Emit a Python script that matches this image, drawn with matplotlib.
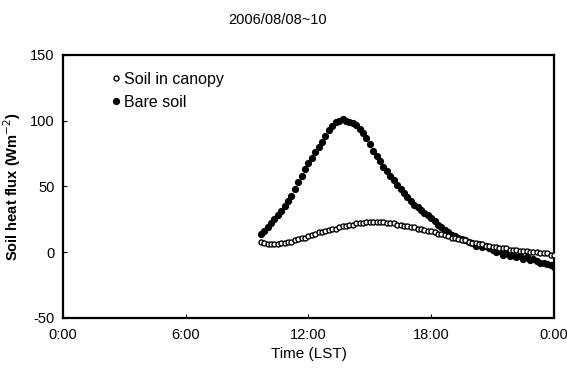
import matplotlib
matplotlib.use("Agg")
import matplotlib.pyplot as plt
import numpy as np

plt.rcParams['font.family'] = ['Liberation Sans', 'DejaVu Sans']
plt.rcParams['axes.unicode_minus'] = False

# 10-minute records from 9:40 to 24:00 (hours)
hours = 9 + 40 / 60 + np.arange(87) / 6

# bare soil heat flux (W m-2), one row per hour
bare_soil = [
    14, 16,
    19, 22, 25, 28, 31, 35,
    39, 43, 48, 53, 58, 63,
    68, 72, 76, 80, 84, 88,
    93, 96, 99, 100, 101, 100,
    99, 98, 97, 94, 91, 87,
    82, 77, 73, 69, 65, 62,
    58, 55, 51, 48, 45, 42,
    39, 36, 34, 32, 30, 28,
    26, 24, 21, 19, 17, 15,
    13, 12, 11, 10, 9, 8,
    7, 5, 6, 4, 5, 3,
    2, 0, 1, -2, -1, -3,
    -2, -4, -3, -5, -4, -6,
    -5, -7, -8, -8, -9, -10,
    -11,
]

# soil heat flux under the canopy
soil_canopy = [
    8, 7,
    6, 6, 6, 6, 7, 7,
    8, 8, 9, 10, 11, 11,
    12, 13, 14, 15, 15, 16,
    17, 18, 18, 19, 20, 20,
    21, 21, 22, 22, 22, 23,
    23, 23, 23, 23, 23, 22,
    22, 22, 21, 21, 20, 20,
    19, 19, 18, 18, 17, 16,
    16, 15, 14, 14, 13, 12,
    11, 11, 10, 9, 9, 8,
    7, 7, 6, 6, 5, 5,
    4, 4, 3, 3, 3, 2,
    2, 2, 1, 1, 1, 0,
    0, 0, -1, -1, -1, -2,
    -2,
]

xticks = [0, 6, 12, 18, 24]
xticklabels = ['0:00', '6:00', '12:00', '18:00', '0:00']
yticks = [-50, 0, 50, 100, 150]

fig = plt.figure(figsize=(5.67, 3.74), dpi=100)
ax = fig.add_axes([0.111, 0.150, 0.866, 0.703])

ax.plot(hours, soil_canopy, 'o', ms=3.6, mfc='white', mec='black', mew=1.0,
        label='Soil in canopy', zorder=3)
ax.plot(hours, bare_soil, 'o', ms=4.2, mfc='black', mec='black',
        label='Bare soil', zorder=2)

ax.set_xlim(0, 24)
ax.set_ylim(-50, 150)
ax.set_xticks(xticks)
ax.set_xticklabels(xticklabels)
ax.set_yticks(yticks)
ax.tick_params(direction='in', length=3, labelsize=10.5, pad=7)
ax.tick_params(axis='y', pad=6)
for s in ax.spines.values():
    s.set_linewidth(1.6)

ax.set_xlabel('Time (LST)', fontsize=11, labelpad=4)
ax.set_ylabel('Soil heat flux (Wm$^{-2}$)', fontsize=10.5, fontweight='bold',
              labelpad=5)

ax.legend(loc='upper left', frameon=False, fontsize=11.5, handletextpad=0.05,
          handlelength=1.0, borderaxespad=0.4, labelspacing=0.5,
          bbox_to_anchor=(0.065, 0.985))

fig.text(278 / 567, 1 - 20 / 374, '2006/08/08~10', ha='center', va='center',
         fontsize=10.5)

fig.savefig('out.png', dpi=100)
